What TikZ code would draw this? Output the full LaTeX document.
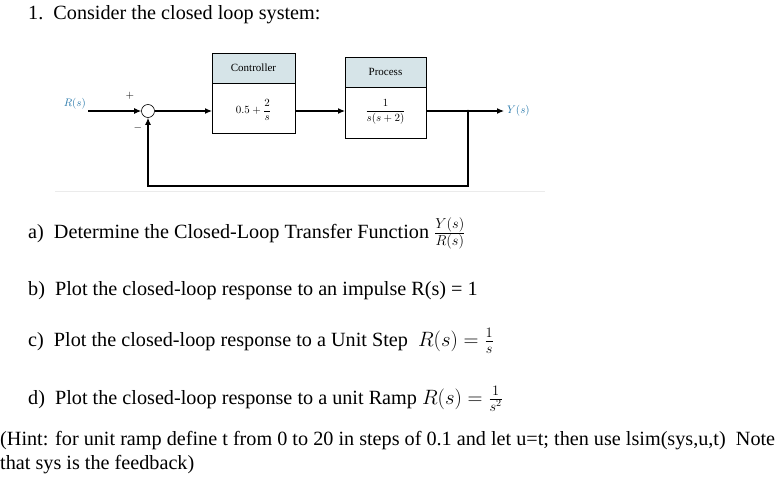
\documentclass[tikz,border=0pt]{standalone}
\usepackage{fontspec}
\setmainfont{Liberation Serif}
\usetikzlibrary{arrows.meta}
\definecolor{hdr}{RGB}{214,228,232}
\definecolor{sig}{RGB}{40,120,170}
\begin{document}
\begin{tikzpicture}[x=1pt,y=-1pt,
  txt/.style={anchor=base west,inner sep=0pt,font=\fontsize{20.2}{22}\selectfont},
  dtxt/.style={font=\fontsize{11}{13}\selectfont,inner sep=0pt},
  box/.style={draw,line width=0.5pt},
  sig/.style={-{Latex[length=7pt,width=6pt]},line width=1.1pt},
  ln/.style={line width=1.1pt}]
\useasboundingbox (0,0) rectangle (780,477);
\node[txt] (t1) at (28,19) {1.\ \ Consider the closed loop system:};
% diagram
\draw[box,fill=hdr] (212,53) rectangle (295,83);
\draw[box] (212,83) rectangle (295,133);
\node[dtxt] (ch) at (253.5,68) {Controller};
\node[dtxt] (c) at (253.5,110) {$0.5+{\displaystyle\frac{2}{s}}$};
\draw[box,fill=hdr] (345,57) rectangle (426,87);
\draw[box] (345,87) rectangle (426,138);
\node[dtxt] (ph) at (385.5,72) {Process};
\node[dtxt] (p) at (385.5,112) {$\displaystyle\frac{1}{s(s+2)}$};
\coordinate (cin) at (212,111);
\coordinate (cout) at (295,111);
\coordinate (pin) at (345,111);
\coordinate (pout) at (426,111);
\node[draw,circle,minimum size=13pt,inner sep=0pt,line width=0.6pt] (sum) at (148,111) {};
\node[dtxt,text=sig,anchor=east] (r) at (86,104) {$R(s)$};
\node[dtxt,text=sig,anchor=west] (y) at (507,111) {$Y(s)$};
\coordinate (rs) at (88,111);
\coordinate (br) at (468,111);
\coordinate (ye) at (504,111);
\coordinate (b1) at (468,186);
\coordinate (b2) at (148,186);
\draw[sig] (rs) -- (sum.west);
\draw[sig] (sum.east) -- (cin);
\draw[sig] (cout) -- (pin);
\draw[sig] (pout) -- (ye);
\draw[sig] (br) -- (b1) -- (b2) -- (sum.south);
\fill (br) circle (1.3pt);
\node[dtxt] (pl) at (130,96) {$+$};
\node[dtxt] (mi) at (138,128) {$-$};
\draw[black!8,line width=0.8pt] (55,191) -- (545,191);
% questions
\node[txt] (a) at (28,238) {a)\ \ Determine the Closed-Loop Transfer Function $\frac{Y(s)}{R(s)}$};
\node[txt] (b) at (28,295) {b)\ \ Plot the closed-loop response to an impulse R(s) = 1};
\node[txt] (cc) at (28,346) {c)\ \ Plot the closed-loop response to a Unit Step\ \ $R(s)=\frac{1}{s}$};
\node[txt] (d) at (28,404) {d)\ \ Plot the closed-loop response to a unit Ramp $R(s)=\frac{1}{s^2}$};
\node[txt] (h1) at (0,445) {(Hint: for unit ramp define t from 0 to 20 in steps of 0.1 and let u=t; then use lsim(sys,u,t)\ \ Note};
\node[txt] (h2) at (0,469) {that sys is the feedback)};
\end{tikzpicture}
\end{document}
